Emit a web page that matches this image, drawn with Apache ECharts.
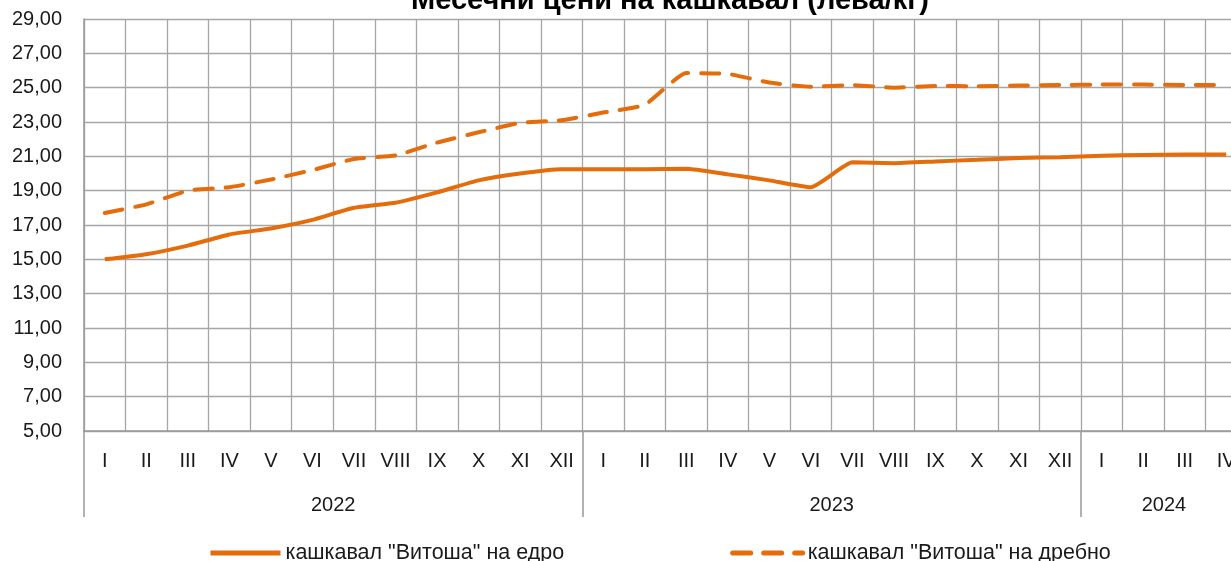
<!DOCTYPE html>
<html>
<head>
<meta charset="utf-8">
<script src="https://cdn.jsdelivr.net/npm/echarts@6/dist/echarts.min.js"></script>
<style>
  html, body { margin: 0; padding: 0; background: #fff; }
  #chart { width: 1231px; height: 561px; }
</style>
</head>
<body>
<div id="chart"></div>
<script>
// месеци (римски цифри) за 2022, 2023 и първите 4 месеца на 2024
var months = ['I','II','III','IV','V','VI','VII','VIII','IX','X','XI','XII',
              'I','II','III','IV','V','VI','VII','VIII','IX','X','XI','XII',
              'I','II','III','IV'];
var years = ['2022', '2023', '2024'];
var yearSpans = [12, 12, 4];

// кашкавал "Витоша" на едро
var wholesale = [15.0, 15.3, 15.8, 16.45, 16.8, 17.3, 18.0, 18.3, 18.9, 19.6, 20.0, 20.25,
                 20.25, 20.25, 20.27, 19.95, 19.6, 19.2, 20.65, 20.6, 20.7, 20.8, 20.9, 20.95,
                 21.03, 21.08, 21.1, 21.1];
// кашкавал "Витоша" на дребно
var retail = [17.7, 18.2, 19.0, 19.2, 19.65, 20.2, 20.85, 21.05, 21.8, 22.4, 22.95, 23.1,
              23.55, 24.0, 25.85, 25.8, 25.3, 25.05, 25.15, 25.0, 25.1, 25.08, 25.12, 25.15,
              25.18, 25.18, 25.16, 25.15];

var seriesNames = ['кашкавал "Витоша" на едро', 'кашкавал "Витоша" на дребно'];

// граници и центрове на годините по оста
var yearBounds = [0], yearCenters = [];
yearSpans.forEach(function (s, i) {
    yearCenters.push(yearBounds[i] + s / 2);
    yearBounds.push(yearBounds[i] + s);
});

var font = "'Liberation Sans', Arial, sans-serif";
var orange = '#E46C0A';
var gridColor = '#a6a6a6';

var myChart = echarts.init(document.getElementById('chart'));
var option = {
    animation: false,
    textStyle: { fontFamily: font },
    title: {
        text: 'Месечни цени на кашкавал (лева/кг)',
        left: 665,
        textAlign: 'center',
        top: -19,
        textStyle: { fontFamily: font, fontSize: 29, fontWeight: 'bold', color: '#000' }
    },
    legend: {
        left: 203,
        top: 537,
        itemWidth: 70,
        itemHeight: 14,
        itemGap: 166,
        itemStyle: { opacity: 0 },
        lineStyle: { width: 5 },
        textStyle: { fontFamily: font, fontSize: 21.5, color: '#1a1a1a', padding: [0, 0, 0, 0] },
        data: seriesNames
    },
    grid: {
        left: 84,
        width: 1163,
        top: 19,
        bottom: 130,
        outerBoundsMode: 'none'
    },
    xAxis: [{
        type: 'category',
        data: months,
        boundaryGap: true,
        axisLine: { lineStyle: { color: '#999', width: 1.5 } },
        axisTick: { show: false },
        axisLabel: { interval: 0, margin: 20, fontSize: 20, color: '#1a1a1a' },
        splitLine: { show: true, lineStyle: { color: gridColor, width: 1.3 } }
    }, {
        type: 'value',
        min: 0,
        max: yearBounds[yearBounds.length - 1],
        position: 'bottom',
        axisLine: { show: false },
        splitLine: { show: false },
        axisTick: {
            show: true,
            customValues: yearBounds,
            length: 86,
            lineStyle: { color: '#999', width: 1.5 }
        },
        axisLabel: {
            customValues: yearCenters,
            margin: 64,
            fontSize: 20,
            color: '#1a1a1a',
            formatter: function (v) {
                return years[yearCenters.indexOf(v)];
            }
        }
    }],
    yAxis: {
        type: 'value',
        min: 5,
        max: 29,
        interval: 2,
        axisLine: { show: true, lineStyle: { color: '#999', width: 1.5 } },
        axisTick: { show: false },
        axisLabel: {
            margin: 22,
            fontSize: 20,
            color: '#1a1a1a',
            formatter: function (v) { return v.toFixed(2).replace('.', ','); }
        },
        splitLine: { lineStyle: { color: gridColor, width: 1.3 } }
    },
    series: [{
        name: seriesNames[0],
        type: 'line',
        data: wholesale,
        symbol: 'none',
        smooth: 0.15,
        lineStyle: { color: orange, width: 4 },
        itemStyle: { color: orange }
    }, {
        name: seriesNames[1],
        type: 'line',
        data: retail,
        symbol: 'none',
        smooth: 0.15,
        lineStyle: { color: orange, width: 4, type: [18, 13], cap: 'round' },
        itemStyle: { color: orange }
    }]
};
myChart.setOption(option);
</script>
</body>
</html>
